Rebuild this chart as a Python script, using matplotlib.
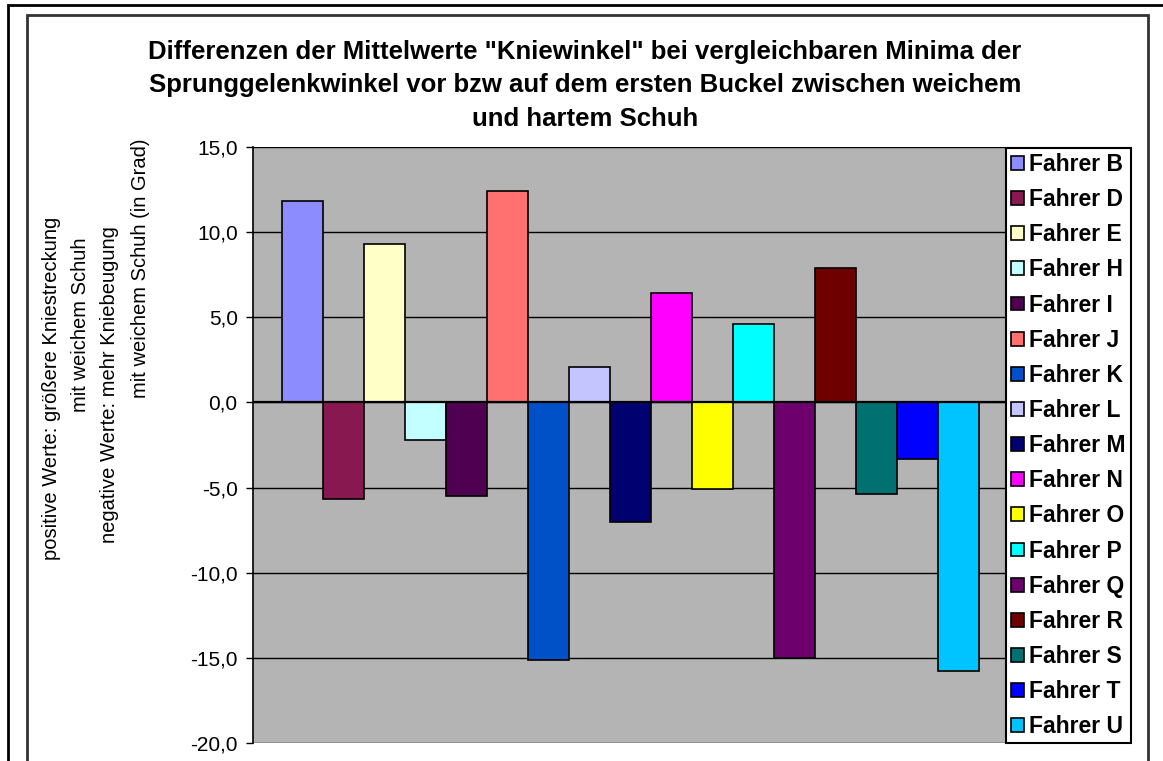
import matplotlib
matplotlib.use("Agg")
import matplotlib.pyplot as plt
from matplotlib.patches import Rectangle
from matplotlib.ticker import FuncFormatter, MultipleLocator
import numpy as np


# Data
RIDERS = ["Fahrer B", "Fahrer D", "Fahrer E", "Fahrer H", "Fahrer I", "Fahrer J",
          "Fahrer K", "Fahrer L", "Fahrer M", "Fahrer N", "Fahrer O", "Fahrer P",
          "Fahrer Q", "Fahrer R", "Fahrer S", "Fahrer T", "Fahrer U"]
KNEE_DIFF = [11.8, -5.7, 9.3, -2.2, -5.5, 12.4, -15.1, 2.1, -7.0, 6.4,
             -5.1, 4.6, -15.0, 7.9, -5.4, -3.3, -15.8]
Y_TICKS = [-20, -15, -10, -5, 0, 5, 10, 15]

# Colours in the old office palette
COLORS = ["#8c8cff", "#881850", "#ffffc8", "#c4ffff", "#500050", "#ff7070",
          "#0050c8", "#c4c4ff", "#000070", "#ff00ff", "#ffff00", "#00ffff",
          "#6e006e", "#6e0000", "#007070", "#0000ff", "#00c4ff"]

TITLE = ('Differenzen der Mittelwerte "Kniewinkel" bei vergleichbaren Minima der\n'
         'Sprunggelenkwinkel vor bzw auf dem ersten Buckel zwischen weichem\n'
         'und hartem Schuh')
YLABEL_LINES = [
    ("positive Werte: größere Kniestreckung", 52, 388),
    ("mit weichem Schuh", 80, 325),
    ("negative Werte: mehr Kniebeugung", 110, 385),
    ("mit weichem Schuh (in Grad)", 140, 268),
]

W, H = 1163, 761
FONT = "Liberation Sans"


def px(x, y):
    """Pixel position (from top left) to figure fraction"""
    return x / W, 1 - y / H


def main():
    plt.rcParams["font.family"] = [FONT, "DejaVu Sans"]
    fig = plt.figure(figsize=(W / 100, H / 100), dpi=100)

    # outer frame and chart area border
    fig.patches.append(Rectangle(px(8, 790), (1200 - 8) / W, (790 - 5) / H,
                                 transform=fig.transFigure, fill=False,
                                 edgecolor="black", linewidth=2.0))
    fig.patches.append(Rectangle(px(27, 790), (1148 - 27) / W, (790 - 15) / H,
                                 transform=fig.transFigure, fill=False,
                                 edgecolor="#333333", linewidth=2.0))

    left, top = px(253, 147)
    right, bottom = px(1005, 743)
    ax = fig.add_axes([left, bottom, right - left, top - bottom])
    ax.set_facecolor("#b4b4b4")

    x = np.arange(len(RIDERS))
    bars = ax.bar(x, KNEE_DIFF, width=1.0, color=COLORS, edgecolor="black",
                  linewidth=1.2, zorder=3)

    ax.set_xlim(-1.21, 17.13)
    ax.set_ylim(min(Y_TICKS), max(Y_TICKS))
    ax.yaxis.set_major_locator(MultipleLocator(5))
    ax.yaxis.set_major_formatter(FuncFormatter(lambda v, _: f"{v:.1f}".replace(".", ",")))
    ax.grid(axis="y", color="black", linewidth=1.0, zorder=1)
    ax.axhline(0, color="black", linewidth=1.6, zorder=4)
    ax.set_xticks([])
    ax.tick_params(axis="y", direction="out", length=5, width=1.0, labelsize=15, pad=6)
    for side in ("top", "right", "bottom"):
        ax.spines[side].set_visible(False)
    ax.spines["left"].set_linewidth(1.2)

    fig.text(*px(585, 85), TITLE, ha="center", va="center", fontsize=18.5,
             fontweight="bold", linespacing=1.5)
    for text, tx, ty in YLABEL_LINES:
        fig.text(*px(tx, ty), text, rotation=90, ha="center", va="center", fontsize=14.5)

    leg = fig.legend(bars, RIDERS, loc="upper left", bbox_to_anchor=px(1006, 148),
                     bbox_transform=fig.transFigure, fancybox=False, framealpha=1,
                     edgecolor="black", handlelength=0.55, handleheight=0.55,
                     handletextpad=0.25, labelspacing=0.53, borderpad=0.22,
                     borderaxespad=0, prop={"family": FONT, "weight": "bold", "size": 16.5})
    leg.get_frame().set_linewidth(1.5)

    fig.savefig("out.png", dpi=100)


if __name__ == "__main__":
    main()
